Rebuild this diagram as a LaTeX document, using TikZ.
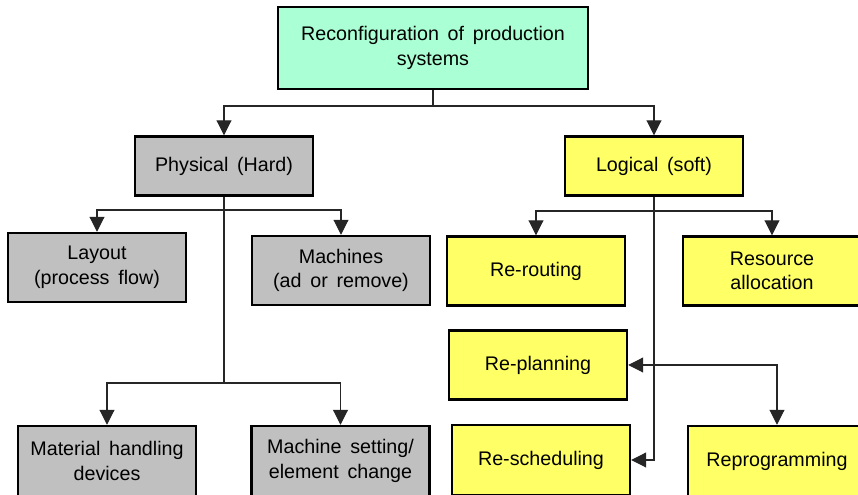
\documentclass[tikz,border=0pt]{standalone}
\usepackage{fontspec}
\setmainfont[WordSpace={1.6}]{Liberation Sans}
\usetikzlibrary{arrows.meta}
\definecolor{mint}{RGB}{170,255,212}
\definecolor{hardgray}{RGB}{192,192,192}
\definecolor{softyellow}{RGB}{255,255,102}
\begin{document}
\begin{tikzpicture}[line join=miter,
    box/.style={draw=black, line width=1.4pt, align=center, inner sep=2pt,
      minimum width=3.56cm, minimum height=1.38cm,
      font=\fontsize{11.2}{14}\selectfont},
    hard/.style={box, fill=hardgray},
    soft/.style={box, fill=softyellow},
    link/.style={line width=0.6pt, draw=black!85},
    arr/.style={link, -{Triangle[width=8.5pt,length=8.5pt]}},
    both/.style={link, {Triangle[width=8.5pt,length=8.5pt]}-{Triangle[width=8.5pt,length=8.5pt]}}]
  \useasboundingbox (0,0) rectangle (17.16,9.9);
  \clip (0,0) rectangle (17.16,9.9);
  % root
  \node[box, fill=mint, minimum width=6.2cm, minimum height=1.64cm] (root) at (8.66,8.94)
    {Reconfiguration of production\\systems};
  \node[hard, minimum height=1.18cm] (phys) at (4.48,6.58) {Physical (Hard)};
  \node[soft, minimum height=1.18cm] (logic) at (13.08,6.58) {Logical (soft)};
  % hard side
  \node[hard] (layout) at (1.94,4.55) {Layout\\(process flow)};
  \node[hard] (machines) at (6.82,4.49) {Machines\\(ad or remove)};
  \node[hard, minimum height=1.4cm] (handling) at (2.14,0.68) {Material handling\\devices};
  \node[hard, minimum height=1.4cm] (setting) at (6.81,0.68) {Machine setting/\\element change};
  % soft side
  \node[soft] (rerout) at (10.72,4.48) {Re-routing};
  \node[soft] (resource) at (15.44,4.48) {Resource\\allocation};
  \node[soft] (replan) at (10.76,2.60) {Re-planning};
  \node[soft, minimum height=1.4cm] (resched) at (10.82,0.70) {Re-scheduling};
  \node[soft, minimum height=1.4cm] (reprog) at (15.54,0.68) {Reprogramming};
  % connectors
  \coordinate (rootj) at (8.66,7.78);
  \coordinate (physj) at (4.48,5.70);
  \coordinate (physk) at (4.48,2.24);
  \coordinate (logj) at (13.08,5.68);
  \draw[link] (root.south) -- (rootj);
  \draw[arr] (rootj) -| (phys.north);
  \draw[arr] (rootj) -| (logic.north);
  \draw[link] (phys.south) -- (physk);
  \draw[arr] (physj) -| (layout.north);
  \draw[arr] (physj) -| (machines.north);
  \draw[arr] (physk) -| (handling.north);
  \draw[arr] (physk) -| (setting.north);
  \draw[arr] (logj) -| (rerout.north);
  \draw[arr] (logj) -| (resource.north);
  \draw[arr] (logic.south) |- (resched.east);
  \draw[both] (replan.east) -| (reprog.north);
\end{tikzpicture}
\end{document}
